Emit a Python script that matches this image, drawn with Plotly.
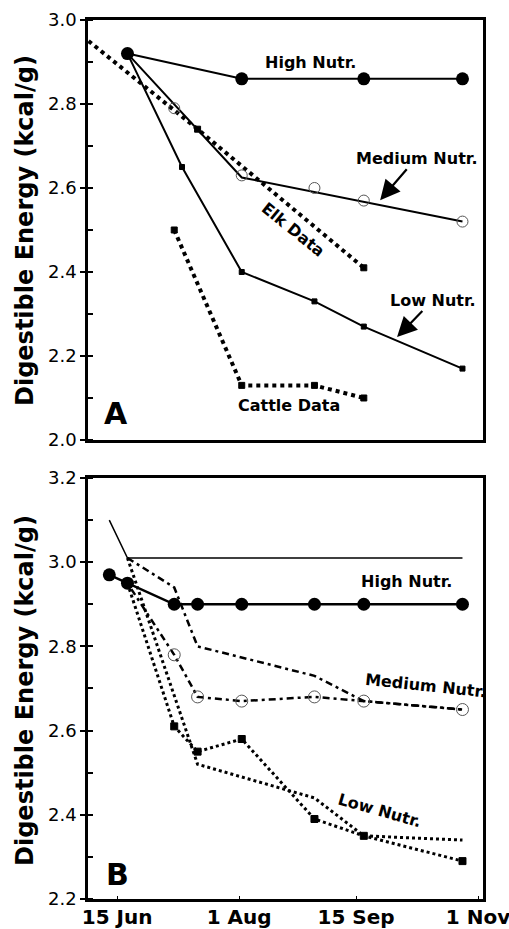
import plotly.graph_objects as go

# x positions are day of year; tick labels mark calendar dates
tick_days = [166, 213, 258, 305]
tick_labels = ["15 Jun", "1 Aug", "15 Sep", "1 Nov"]

# ---- Panel A: digestible energy (kcal/g) ----
a_high_day = [170, 214, 261, 299]
a_high_de = [2.92, 2.86, 2.86, 2.86]

a_med_line_day = [170, 214, 299]
a_med_line_de = [2.92, 2.625, 2.52]
a_med_obs_day = [188, 214, 242, 261, 299]
a_med_obs_de = [2.79, 2.63, 2.60, 2.57, 2.52]

a_low_day = [170, 191, 214, 242, 261, 299]
a_low_de = [2.92, 2.65, 2.40, 2.33, 2.27, 2.17]

a_elk_day = [155, 197, 261]
a_elk_de = [2.95, 2.74, 2.41]

a_cattle_day = [188, 214, 242, 261]
a_cattle_de = [2.50, 2.13, 2.13, 2.10]

# ---- Panel B ----
b_high_day = [163, 170, 188, 197, 214, 242, 261, 299]
b_high_de = [2.97, 2.95, 2.90, 2.90, 2.90, 2.90, 2.90, 2.90]
b_high_model_day = [163, 170, 299]
b_high_model_de = [3.10, 3.01, 3.01]

b_med_day = [170, 188, 197, 214, 242, 261, 299]
b_med_de = [2.95, 2.78, 2.68, 2.67, 2.68, 2.67, 2.65]
b_med_model_day = [170, 188, 197, 242, 261, 299]
b_med_model_de = [3.01, 2.94, 2.80, 2.73, 2.67, 2.65]

b_low_day = [170, 188, 197, 214, 242, 261, 299]
b_low_de = [2.95, 2.61, 2.55, 2.58, 2.39, 2.35, 2.29]
b_low_model_day = [170, 197, 242, 261, 299]
b_low_model_de = [3.01, 2.52, 2.44, 2.35, 2.34]

FONT = "DejaVu Sans"
BLACK = "#000000"

fig = go.Figure()


def add(x, y, xa, ya, width=2, dash="solid", symbol="circle", size=0,
        mcolor=BLACK, mline=0, mode="lines+markers", color=BLACK):
    fig.add_trace(go.Scatter(
        x=x, y=y, xaxis=xa, yaxis=ya, mode=mode,
        line=dict(color=color, width=width, dash=dash),
        marker=dict(symbol=symbol, size=size, color=mcolor, opacity=1,
                    line=dict(width=mline, color=mcolor)),
        showlegend=False, hoverinfo="skip"))


# Panel A traces
add(a_elk_day, a_elk_de, "x", "y", width=4, dash="4px,4px",
    symbol="square", size=[0, 6, 6], mline=1)
add(a_cattle_day, a_cattle_de, "x", "y", width=4, dash="4px,4px",
    symbol="square", size=6, mline=1)
add(a_low_day, a_low_de, "x", "y", width=2, symbol="square", size=5,
    mline=1)
add(a_med_line_day, a_med_line_de, "x", "y", width=2, mode="lines")
add(a_med_obs_day, a_med_obs_de, "x", "y", mode="markers",
    symbol="circle-open", size=11, mcolor="#555555", mline=1)
add(a_high_day, a_high_de, "x", "y", width=2, symbol="circle", size=13)

# Panel B traces
add(b_high_model_day, b_high_model_de, "x2", "y2", width=1.5, mode="lines")
add(b_med_model_day, b_med_model_de, "x2", "y2", width=2.5,
    dash="7px,4px,3px,4px", mode="lines")
add(b_low_model_day, b_low_model_de, "x2", "y2", width=3,
    dash="3px,3px", mode="lines")
add(b_low_day, b_low_de, "x2", "y2", width=3, dash="3px,3px", mode="lines")
add(b_low_day[1:], b_low_de[1:], "x2", "y2", mode="markers",
    symbol="square", size=7, mline=1)
add(b_med_day, b_med_de, "x2", "y2", width=2.5, dash="3px,4px,7px,4px",
    mode="lines")
add(b_med_day[1:], b_med_de[1:], "x2", "y2", mode="markers",
    symbol="circle-open", size=12, mcolor="#555555", mline=1)
add(b_high_day, b_high_de, "x2", "y2", width=2.5, symbol="circle", size=13)

x_range = [154.8, 306.9]

xcommon = dict(range=x_range, showgrid=False, zeroline=False,
               automargin=False,
               showline=True, linecolor=BLACK, linewidth=2.5, mirror=True)
ycommon = dict(showgrid=False, zeroline=False, showline=True,
               automargin=False,
               linecolor=BLACK, linewidth=2.5, mirror=True,
               ticks="outside", ticklen=5, tickwidth=1.5, tickcolor=BLACK,
               dtick=0.2, tickformat=".1f",
               tickfont=dict(family=FONT, size=18, color=BLACK),
               minor=dict(ticks="inside", ticklen=5, tickwidth=1.5,
                          tickcolor=BLACK, dtick=0.1))

fig.update_layout(
    width=509, height=929,
    margin=dict(l=88, r=26, t=20, b=30, autoexpand=False),
    paper_bgcolor="white", plot_bgcolor="white",
    xaxis=dict(xcommon, domain=[0, 1], anchor="y", showticklabels=False,
               ticks=""),
    yaxis=dict(ycommon, domain=[0.5222, 1.0], anchor="x", range=[2.0, 3.0],
               tick0=2.0),
    xaxis2=dict(xcommon, domain=[0, 1], anchor="y2", tickvals=tick_days,
                ticktext=tick_labels, ticks="inside", ticklen=3,
                tickwidth=1, tickcolor=BLACK, ticklabelstandoff=-2,
                ticklabeloverflow="allow",
                tickfont=dict(family=FONT, size=20, color=BLACK,
                              weight="bold")),
    yaxis2=dict(ycommon, domain=[0.0, 0.4790], anchor="x2",
                range=[2.2, 3.2], tick0=2.2),
)

lab = dict(family=FONT, size=16, color=BLACK, weight="bold")
ann = []


def text(x, y, s, xr="x", yr="y", angle=0, font=lab):
    ann.append(dict(x=x, y=y, xref=xr, yref=yr, text=s, showarrow=False,
                    textangle=angle, font=font,
                    xanchor="center", yanchor="middle"))


def arrow_text(x, y, ax, ay, s, xr="x", yr="y"):
    ann.append(dict(x=x, y=y, xref=xr, yref=yr, text=s, showarrow=True,
                    ax=ax, ay=ay, arrowhead=2, arrowsize=1.8,
                    arrowwidth=2.2, arrowcolor=BLACK, font=lab))


# Panel A labels
text(240.3, 2.898, "High Nutr.")
arrow_text(267.3, 2.571, 36, -42, "Medium Nutr.")
arrow_text(273.8, 2.245, 36, -37, "Low Nutr.")
text(233.8, 2.502, "Elk Data", angle=39)
text(232.2, 2.083, "Cattle Data")
text(165.6, 2.064, "A",
     font=dict(family=FONT, size=30, color=BLACK, weight="bold"))

# Panel B labels
text(277.3, 2.953, "High Nutr.", "x2", "y2")
text(284.6, 2.708, "Medium Nutr.", "x2", "y2", angle=6)
text(267.3, 2.411, "Low Nutr.", "x2", "y2", angle=16)
text(166.0, 2.259, "B", "x2", "y2",
     font=dict(family=FONT, size=30, color=BLACK, weight="bold"))

# Shared y-axis titles
ytitle = dict(family=FONT, size=24, color=BLACK, weight="bold")
for yc in (0.7611, 0.2378):
    ann.append(dict(x=-0.1595, y=yc, xref="paper", yref="paper",
                    text="Digestible Energy (kcal/g)", showarrow=False,
                    textangle=-90, font=ytitle,
                    xanchor="center", yanchor="middle"))

fig.update_layout(annotations=ann)

fig.write_html("out.html")
